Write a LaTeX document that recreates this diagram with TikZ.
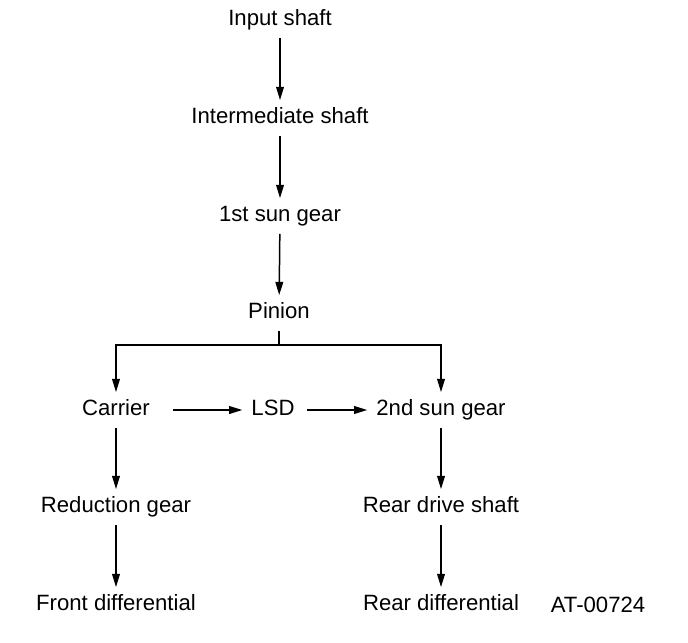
\documentclass[tikz,border=0pt]{standalone}
\usepackage{fontspec}
\setmainfont{Liberation Sans}
\usepackage{tikz}
\usetikzlibrary{arrows.meta,positioning,calc}

\begin{document}
\begin{tikzpicture}[x=0.02cm, y=-0.02cm,
  part/.style={font=\fontsize{12.6}{15}\selectfont, text height=9pt, text depth=3pt, inner xsep=3pt, inner ysep=4pt},
  arrow/.style={-{Triangle[length=7.5pt, width=4.4pt]}, line width=0.85pt}
]
  \useasboundingbox (0,0) rectangle (688,642);

  \node[part] (input) at (280,20) {Input shaft};
  \node[part] (inter) at (280,118) {Intermediate shaft};
  \node[part] (sun1) at (280,216) {1st sun gear};
  \node[part] (pinion) at (279,313) {Pinion};
  \node[part] (carrier) at (116,410) {Carrier};
  \node[part] (lsd) at (273,410) {LSD};
  \node[part] (sun2) at (441,410) {2nd sun gear};
  \node[part] (reduction) at (116,507) {Reduction gear};
  \node[part] (reardrive) at (441,507) {Rear drive shaft};
  \node[part] (frontdiff) at (116,605) {Front differential};
  \node[part] (reardiff) at (441,605) {Rear differential};
  \node[part] (code) at (598,607) {AT-00724};

  \coordinate (split) at (279,345);

  \draw[arrow] (input) -- (inter);
  \draw[arrow] (inter) -- (sun1);
  \draw[arrow] (sun1) -- (pinion);
  \draw[line width=0.85pt] (pinion) -- (split);
  \draw[arrow] (split) -| (carrier);
  \draw[arrow] (split) -| (sun2);
  \draw[arrow, shorten <=10pt, shorten >=2pt] (carrier) -- (lsd);
  \draw[arrow, shorten <=4pt, shorten >=2pt] (lsd) -- (sun2);
  \draw[arrow] (carrier) -- (reduction);
  \draw[arrow] (reduction) -- (frontdiff);
  \draw[arrow] (sun2) -- (reardrive);
  \draw[arrow] (reardrive) -- (reardiff);
\end{tikzpicture}
\end{document}
